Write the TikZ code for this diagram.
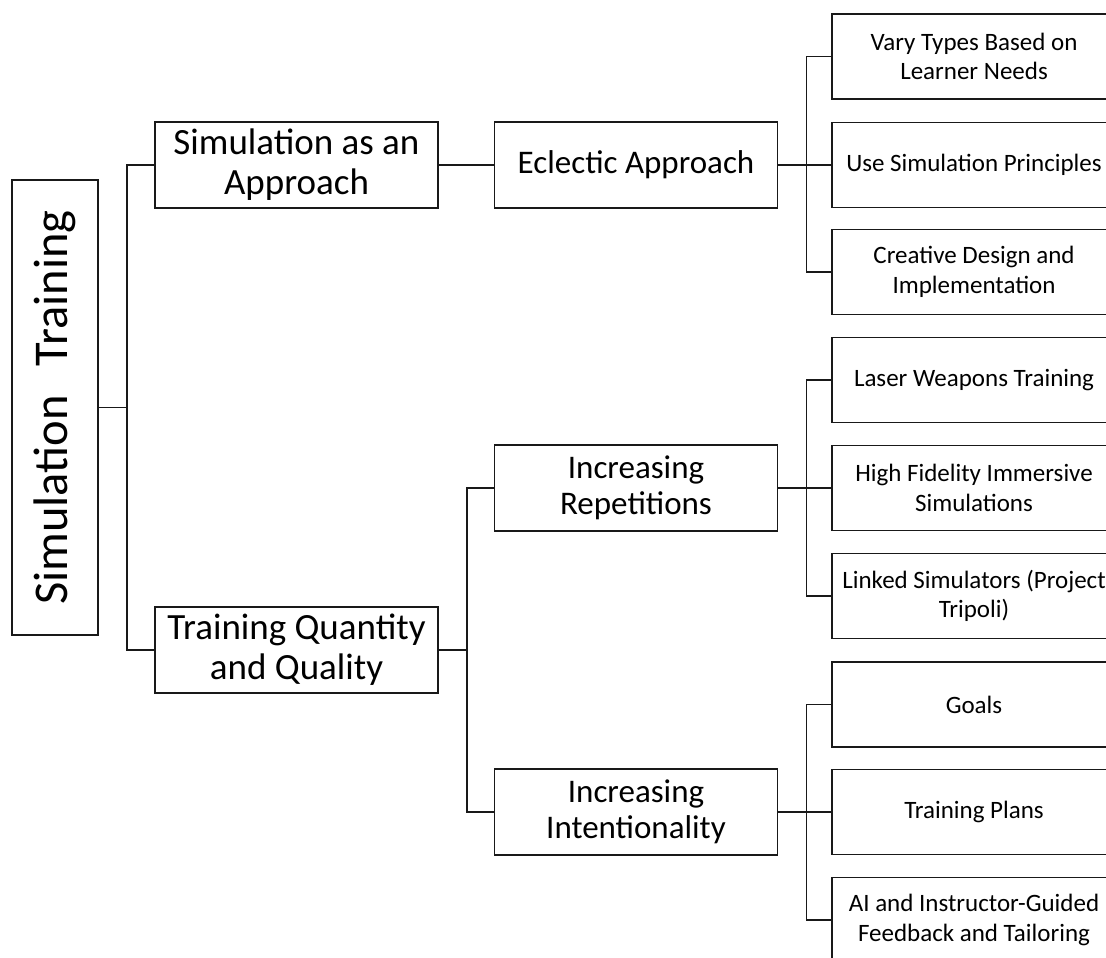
\documentclass[tikz,border=0pt]{standalone}
\usepackage{fontspec}
\setmainfont{Carlito}
\begin{document}
\begin{tikzpicture}[x=1pt,y=-1pt,
  box/.style={draw=black!90, line width=1.8pt, rectangle, inner sep=0pt,
              align=center, text=black},
  rootbox/.style={box, minimum width=86pt, minimum height=455pt,
              font=\fontsize{48.5}{56}\selectfont},
  topbox/.style={box, minimum width=283pt, minimum height=86pt,
              font=\fontsize{37}{40}\selectfont},
  midbox/.style={box, minimum width=283pt, minimum height=86pt,
              font=\fontsize{33}{36.5}\selectfont},
  leafbox/.style={box, minimum width=284pt, minimum height=85pt,
              font=\fontsize{25}{29.5}\selectfont},
  link/.style={draw=black!90, line width=1.8pt}]
\useasboundingbox (0,0) rectangle (1106,958);
\clip (0,0) rectangle (1106,958);

% root of the tree
\node[rootbox] (root) at (55,407.5) {\rotatebox{90}{Simulation\hspace{0.6em}Training}};

% second level
\node[topbox] (sa) at (296.5,165) {Simulation as an\\Approach};
\node[topbox] (tq) at (296.5,650) {Training Quantity\\and Quality};

% third level
\node[midbox] (ea) at (636,165) {Eclectic Approach};
\node[midbox] (ir) at (636,488) {Increasing\\Repetitions};
\node[midbox] (ii) at (636,812) {Increasing\\Intentionality};

% leaves
\node[leafbox] (vt) at (974,56.5) {Vary Types Based on\\Learner Needs};
\node[leafbox] (us) at (974,165) {Use Simulation Principles};
\node[leafbox] (cd) at (974,272) {Creative Design and\\Implementation};
\node[leafbox] (lw) at (974,380) {Laser Weapons Training};
\node[leafbox] (hf) at (974,488) {High Fidelity Immersive\\Simulations};
\node[leafbox] (ls) at (974,596) {Linked Simulators (Project\\Tripoli)};
\node[leafbox] (go) at (974,704.5) {Goals};
\node[leafbox] (tp) at (974,812) {Training Plans};
\node[leafbox] (ai) at (974,920) {AI and Instructor-Guided\\Feedback and Tailoring};

% elbow connectors
\foreach \a/\b in {root/sa, root/tq, tq/ir, tq/ii,
                   ea/vt, ea/us, ea/cd,
                   ir/lw, ir/hf, ir/ls,
                   ii/go, ii/tp, ii/ai}
  \draw[link] (\a.east) -- ++(28,0) |- (\b.west);
\draw[link] (sa.east) -- (ea.west);
\end{tikzpicture}
\end{document}
